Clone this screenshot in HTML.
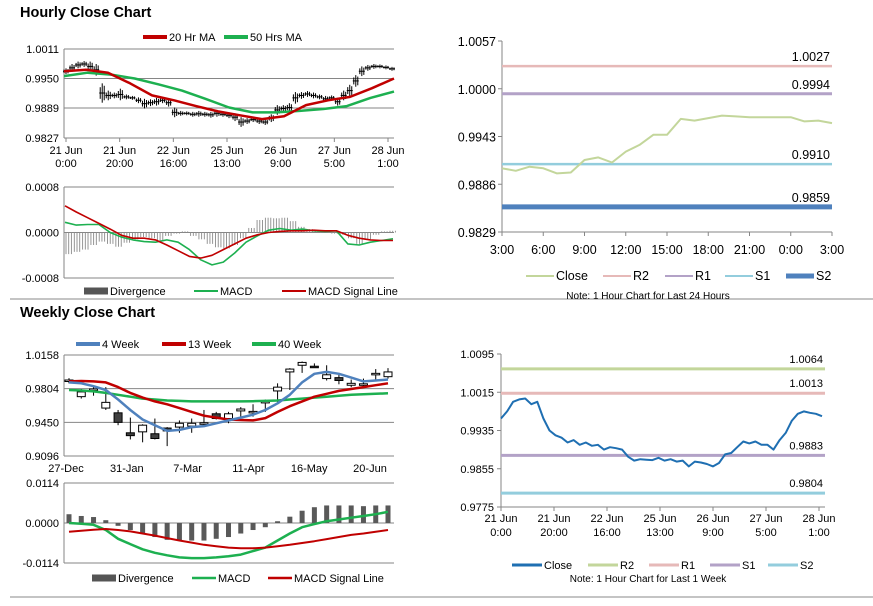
<!DOCTYPE html>
<html><head><meta charset="utf-8"><style>
body{margin:0;background:#fff;width:873px;height:601px;overflow:hidden}
svg{font-family:"Liberation Sans",Arial,sans-serif;font-size:11px;fill:#000}
.t{font-weight:bold;font-size:14.5px}
.s{font-size:10px}
</style></head><body>
<svg id="c" width="873" height="601" viewBox="0 0 873 601"></svg>
<script>
// ---------- DATA ----------
const hourlyClose=[0.9965,0.9972,0.9978,0.9980,0.9975,0.9968,0.9920,0.9915,0.9915,0.9917,0.9912,0.9910,0.9905,0.9898,0.9900,0.9902,0.9905,0.9900,0.9880,0.9878,0.9878,0.9876,0.9877,0.9876,0.9875,0.9878,0.9876,0.9874,0.9870,0.9860,0.9862,0.9865,0.9862,0.9860,0.9868,0.9885,0.9888,0.9890,0.9910,0.9915,0.9918,0.9915,0.9912,0.9908,0.9910,0.9902,0.9915,0.9925,0.9945,0.9965,0.9972,0.9975,0.9975,0.9973,0.9970];
const hourlyRange=[0.0006,0.0008,0.0007,0.0006,0.0010,0.0012,0.0020,0.0010,0.0006,0.0012,0.0005,0.0004,0.0006,0.0010,0.0007,0.0008,0.0006,0.0008,0.0010,0.0005,0.0004,0.0005,0.0006,0.0005,0.0006,0.0007,0.0005,0.0006,0.0008,0.0010,0.0006,0.0005,0.0006,0.0006,0.0008,0.0010,0.0007,0.0009,0.0012,0.0007,0.0006,0.0006,0.0005,0.0006,0.0005,0.0008,0.0010,0.0012,0.0012,0.0010,0.0006,0.0005,0.0004,0.0004,0.0004];
const ma20=[0.9965,0.9968,0.9962,0.9940,0.9915,0.9905,0.9893,0.9882,0.9874,0.9866,0.9872,0.9895,0.9905,0.9912,0.9930,0.9950];
const ma50=[0.9955,0.9962,0.9958,0.9950,0.9938,0.9925,0.9908,0.9890,0.9880,0.9880,0.9883,0.9887,0.9893,0.9910,0.9923];
const hMacd=[0.00018,0.00013,0.00014,0.00014,0.00000,-0.00008,-0.00013,-0.00016,-0.00017,-0.00013,-0.00017,-0.00030,-0.00048,-0.00057,-0.00052,-0.00036,-0.00017,-0.00006,0.00004,0.00007,0.00004,0.00006,0.00003,0.00002,0.00003,-0.00020,-0.00022,-0.00017,-0.00014,-0.00011];
const hSignal=[0.00047,0.00036,0.00026,0.00016,0.00006,-0.00005,-0.00010,-0.00010,-0.00013,-0.00022,-0.00032,-0.00042,-0.00045,-0.00040,-0.00030,-0.00020,-0.00010,-0.00004,0.00000,0.00002,0.00003,0.00003,0.00004,0.00003,0.00003,-0.00005,-0.00010,-0.00013,-0.00014,-0.00014];
const hDiv=[-0.00038,-0.00034,-0.00030,-0.00022,-0.00016,-0.00020,-0.00025,-0.00018,-0.00012,-0.00008,-0.00010,-0.00014,-0.00006,-0.00002,0.00002,-0.00006,-0.00012,-0.00020,-0.00026,-0.00028,-0.00022,-0.00010,0.00008,0.00022,0.00026,0.00025,0.00026,0.00020,0.00010,0.00006,0.00004,0.00002,-0.00002,-0.00004,-0.00010,-0.00020,-0.00012,-0.00004,0.00002,0.00003];
const hourTicks=["21 Jun|0:00","21 Jun|20:00","22 Jun|16:00","25 Jun|13:00","26 Jun|9:00","27 Jun|5:00","28 Jun|1:00"];
const hYTicks=[1.0011,0.9950,0.9889,0.9827];

const wOpen=[0.9880,0.9720,0.9790,0.9600,0.9550,0.9340,0.9350,0.9330,0.9390,0.9400,0.9410,0.9440,0.9540,0.9490,0.9570,0.9560,0.9665,0.9780,0.9980,1.0050,1.0040,0.9910,0.9920,0.9840,0.9850,0.9960,0.9930];
const wClose=[0.9895,0.9770,0.9800,0.9660,0.9450,0.9310,0.9420,0.9280,0.9360,0.9440,0.9440,0.9445,0.9490,0.9540,0.9590,0.9565,0.9670,0.9820,1.0010,1.0080,1.0030,0.9950,0.9890,0.9860,0.9855,0.9965,0.9980];
const wHigh=[0.9915,0.9800,0.9830,0.9820,0.9580,0.9500,0.9430,0.9490,0.9400,0.9470,0.9490,0.9580,0.9560,0.9560,0.9610,0.9640,0.9690,0.9860,1.0020,1.0090,1.0070,1.0050,0.9960,0.9900,0.9910,1.0010,1.0020];
const wLow=[0.9860,0.9700,0.9730,0.9580,0.9420,0.9270,0.9240,0.9270,0.9200,0.9340,0.9340,0.9420,0.9480,0.9440,0.9500,0.9510,0.9560,0.9660,0.9790,0.9970,1.0030,0.9890,0.9850,0.9820,0.9830,0.9890,0.9910];
const wk4=[0.9870,0.9860,0.9830,0.9790,0.9690,0.9580,0.9480,0.9420,0.9360,0.9370,0.9400,0.9410,0.9440,0.9470,0.9500,0.9530,0.9580,0.9650,0.9740,0.9870,0.9960,0.9980,0.9960,0.9920,0.9880,0.9890,0.9900];
const wk13=[0.9880,0.9885,0.9880,0.9870,0.9820,0.9760,0.9710,0.9670,0.9640,0.9600,0.9560,0.9520,0.9500,0.9480,0.9475,0.9470,0.9495,0.9560,0.9620,0.9670,0.9720,0.9750,0.9780,0.9800,0.9820,0.9840,0.9860];
const wk40=[0.9790,0.9785,0.9775,0.9760,0.9740,0.9720,0.9700,0.9690,0.9680,0.9675,0.9670,0.9670,0.9670,0.9670,0.9670,0.9672,0.9675,0.9680,0.9690,0.9700,0.9710,0.9720,0.9730,0.9740,0.9745,0.9750,0.9755];
const wMacd=[0.0000,-0.0002,-0.0005,-0.0020,-0.0045,-0.0060,-0.0075,-0.0085,-0.0092,-0.0098,-0.0100,-0.0100,-0.0098,-0.0095,-0.0090,-0.0080,-0.0070,-0.0050,-0.0030,-0.0012,-0.0003,0.0005,0.0010,0.0015,0.0020,0.0025,0.0032];
const wSignal=[-0.0025,-0.0022,-0.0019,-0.0017,-0.0020,-0.0024,-0.0030,-0.0036,-0.0043,-0.0050,-0.0056,-0.0062,-0.0066,-0.0070,-0.0072,-0.0072,-0.0070,-0.0066,-0.0062,-0.0057,-0.0052,-0.0046,-0.0040,-0.0034,-0.0030,-0.0025,-0.0020];
const wDiv=[0.0025,0.0020,0.0017,0.0008,-0.0008,-0.0020,-0.0030,-0.0040,-0.0048,-0.0050,-0.0050,-0.0050,-0.0045,-0.0040,-0.0030,-0.0020,-0.0012,0.0005,0.0018,0.0035,0.0045,0.0050,0.0050,0.0050,0.0048,0.0050,0.0050];
const weekTicks=["27-Dec","31-Jan","7-Mar","11-Apr","16-May","20-Jun"];
const wYTicks=[1.0158,0.9804,0.9450,0.9096];

const dayClose=[0.9905,0.9902,0.9907,0.9905,0.9899,0.9900,0.9915,0.9918,0.9912,0.9925,0.9933,0.9945,0.9945,0.9964,0.9962,0.9965,0.9968,0.9967,0.9966,0.9966,0.9966,0.9966,0.9961,0.9962,0.9959];
const dayTicks=["3:00","6:00","9:00","12:00","15:00","18:00","21:00","0:00","3:00"];
const dayYTicks=[1.0057,1.0000,0.9943,0.9886,0.9829];
const dayLevels=[1.0027,0.9994,0.9910,0.9859];
const dayLevelNames=["R2","R1","S1","S2"];

const weekClose=[0.9960,0.9975,0.9995,1.0000,1.0002,0.9990,0.9995,0.9960,0.9935,0.9925,0.9920,0.9910,0.9915,0.9905,0.9910,0.9903,0.9905,0.9895,0.9900,0.9898,0.9895,0.9880,0.9872,0.9875,0.9874,0.9873,0.9878,0.9872,0.9875,0.9870,0.9872,0.9860,0.9870,0.9868,0.9865,0.9860,0.9867,0.9885,0.9888,0.9900,0.9912,0.9908,0.9912,0.9905,0.9905,0.9895,0.9915,0.9930,0.9955,0.9970,0.9975,0.9972,0.9970,0.9965];
const weekLevels=[1.0064,1.0013,0.9883,0.9804];
const weekLevelNames=["R2","R1","S1","S2"];
const wkYTicks=[1.0095,1.0015,0.9935,0.9855,0.9775];

// ---------- HELPERS ----------
const svg=document.getElementById('c');const NS='http://www.w3.org/2000/svg';
function E(tag,at,parent){const e=document.createElementNS(NS,tag);for(const k in at)e.setAttribute(k,at[k]);(parent||svg).appendChild(e);return e;}
function T(x,y,s,anchor,cls){const e=E('text',{x:x,y:y,'text-anchor':anchor||'start'});if(cls)e.setAttribute('class',cls);e.textContent=s;return e;}
function lin(d0,d1,r0,r1){return v=>r0+(v-d0)/(d1-d0)*(r1-r0);}
function pathOf(arr,x,y){return arr.map((v,i)=>(i?'L':'M')+x(i).toFixed(1)+','+y(v).toFixed(1)).join('');}
function line(arr,x,y,color,w,name){const p=E('path',{d:pathOf(arr,x,y),fill:'none',stroke:color,'stroke-width':w,'stroke-linejoin':'round'});

return p;}
function legend(items,y){items.forEach(it=>{const l=E('line',{x1:it.x,y1:y-4,x2:it.x+24,y2:y-4,stroke:it.c,'stroke-width':it.w});


const t=T(it.x+26,y,it.label);

});}

const RED='#c00000',GRN='#1db050',BLUE='#4f81bd',GRID='#868686';

// ---------- TITLES / SEPARATORS ----------
T(20,17,'Hourly Close Chart','start','t');
T(20,317,'Weekly Close Chart','start','t');
E('line',{x1:10,y1:299,x2:873,y2:299,stroke:'#888','stroke-width':1});
E('line',{x1:10,y1:597,x2:873,y2:597,stroke:'#888','stroke-width':1});

// ---------- HOURLY MAIN ----------
(function(){
const L=64,R=394,top=49,bot=138;
const y=lin(0.9827,1.0011,bot,top);
hYTicks.forEach(v=>{E('line',{x1:L,y1:y(v),x2:R,y2:y(v),stroke:GRID});T(L-5,y(v)+4,v.toFixed(4),'end');});
E('line',{x1:L,y1:top,x2:L,y2:bot,stroke:GRID});
const tx=lin(0,6,66,388);
hourTicks.forEach((s,i)=>{const p=s.split('|');E('line',{x1:tx(i),y1:bot,x2:tx(i),y2:bot+4,stroke:GRID});T(tx(i),bot+16,p[0],'middle');T(tx(i),bot+29,p[1],'middle');});
const x=lin(0,hourlyClose.length-1,66,392);
hourlyClose.forEach((v,i)=>{const r=hourlyRange[i];
[[-2,0.6],[0,1],[2,0.75]].forEach(o=>{const b=E('line',{x1:x(i)+o[0],y1:y(v+r*o[1]),x2:x(i)+o[0],y2:y(v-r*o[1]),stroke:'#000','stroke-width':1});

});
E('line',{x1:x(i)-3,y1:y(v),x2:x(i)+3,y2:y(v),stroke:'#000'});});
line(ma50,lin(0,ma50.length-1,64,394),y,GRN,2.5,'ma50-line');
line(ma20,lin(0,ma20.length-1,64,394),y,RED,2.5,'ma20-line');
legend([{x:143,c:RED,w:4,label:'20 Hr MA',n:'ma20'},{x:224,c:GRN,w:4,label:'50 Hrs MA',n:'ma50'}],41);
})();

// ---------- HOURLY MACD ----------
(function(){
const L=64,R=394,top=187,bot=278;
const y=lin(-0.0008,0.0008,bot,top);
[0.0008,0,-0.0008].forEach(v=>{E('line',{x1:L,y1:y(v),x2:R,y2:y(v),stroke:GRID});T(L-5,y(v)+4,v.toFixed(4),'end');});
E('line',{x1:L,y1:top,x2:L,y2:bot,stroke:GRID});
const x=lin(0,hDiv.length-1,66,390);
hDiv.forEach((v,i)=>{for(let k=0;k<3;k++){const xx=x(i)+k*2.7;const b=E('line',{x1:xx,y1:y(0),x2:xx,y2:y(v),stroke:'#8a8a8a','stroke-width':0.9});

}});
line(hMacd,lin(0,hMacd.length-1,65,393),y,GRN,1.6,'hourly-macd-line');
line(hSignal,lin(0,hSignal.length-1,65,393),y,RED,1.6,'hourly-signal-line');
legend([{x:84,c:'#555',w:7,label:'Divergence',n:'divergence'},{x:194,c:GRN,w:2,label:'MACD',n:'macd'},{x:282,c:RED,w:2,label:'MACD Signal Line',n:'signal'}],295);
})();

// ---------- WEEKLY MAIN ----------
(function(){
const L=64,R=394,top=355,bot=456;
const y=lin(0.9096,1.0158,bot,top);
wYTicks.forEach(v=>{E('line',{x1:L,y1:y(v),x2:R,y2:y(v),stroke:GRID});T(L-5,y(v)+4,v.toFixed(4),'end');});
E('line',{x1:L,y1:top,x2:L,y2:bot,stroke:GRID});
const x=lin(0,26,69,388);
const tx=lin(0,5,66,370);
weekTicks.forEach((s,i)=>{T(tx(i),bot+16,s,'middle');});
wOpen.forEach((o,i)=>{const c=wClose[i];
E('line',{x1:x(i),y1:y(wHigh[i]),x2:x(i),y2:y(wLow[i]),stroke:'#000'});
const r=E('rect',{x:x(i)-4,y:y(Math.max(o,c)),width:8,height:Math.max(1.5,Math.abs(y(o)-y(c))),fill:c>=o?'#fff':'#404040',stroke:'#000','stroke-width':1});

});
line(wk40,x,y,GRN,2.5,'wk40-line');
line(wk13,x,y,RED,2.5,'wk13-line');
line(wk4,x,y,BLUE,2.5,'wk4-line');
legend([{x:76,c:BLUE,w:4,label:'4 Week',n:'wk4'},{x:162,c:RED,w:4,label:'13 Week',n:'wk13'},{x:252,c:GRN,w:4,label:'40 Week',n:'wk40'}],348);
})();

// ---------- WEEKLY MACD ----------
(function(){
const L=64,R=394,top=483,bot=563;
const y=lin(-0.0114,0.0114,bot,top);
[0.0114,0,-0.0114].forEach(v=>{E('line',{x1:L,y1:y(v),x2:R,y2:y(v),stroke:GRID});T(L-5,y(v)+4,v.toFixed(4),'end');});
E('line',{x1:L,y1:top,x2:L,y2:bot,stroke:GRID});
const x=lin(0,26,69,388);
wDiv.forEach((v,i)=>{const b=E('rect',{x:x(i)-2.5,y:Math.min(y(0),y(v)),width:5,height:Math.abs(y(v)-y(0)),fill:'#595959'});

});
line(wMacd,x,y,GRN,2.5,'weekly-macd-line');
line(wSignal,x,y,RED,2,'weekly-signal-line');
legend([{x:92,c:'#555',w:7,label:'Divergence',n:'w-divergence'},{x:192,c:GRN,w:2.5,label:'MACD',n:'w-macd'},{x:268,c:RED,w:2.5,label:'MACD Signal Line',n:'w-signal'}],582);
})();

// ---------- DAY PIVOT ----------
(function(){
const L=502,R=832,top=41,bot=232;
const y=lin(0.9829,1.0057,bot,top);
E('line',{x1:L,y1:top,x2:L,y2:bot,stroke:GRID});E('line',{x1:L,y1:bot,x2:R,y2:bot,stroke:GRID});
dayYTicks.forEach(v=>{E('line',{x1:L-4,y1:y(v),x2:L,y2:y(v),stroke:GRID});const t=T(L-6,y(v)+5,v.toFixed(4),'end');t.setAttribute('font-size','12.5');});
const tx=lin(0,8,L,R);
dayTicks.forEach((s,i)=>{E('line',{x1:tx(i),y1:bot,x2:tx(i),y2:bot+4,stroke:GRID});const t=T(tx(i),bot+22,s,'middle');t.setAttribute('font-size','12.5');});
const cols=['#e6b9b8','#b3a2c7','#93cddd','#4f81bd'],ws=[2.5,3,2.5,5];
dayLevels.forEach((v,i)=>{const l=E('line',{x1:L,y1:y(v),x2:R,y2:y(v),stroke:cols[i],'stroke-width':ws[i]});


const t=T(R-2,y(v)-5,v.toFixed(4),'end');t.setAttribute('font-size','12.5');});
line(dayClose,lin(0,dayClose.length-1,L,R),y,'#c3d69b',2,'day-close-line');
const ly=280;
[[526,'#c3d69b',2,'Close'],[603,'#e6b9b8',2,'R2'],[665,'#b3a2c7',2,'R1'],[725,'#93cddd',2,'S1'],[786,'#4f81bd',5,'S2']].forEach(a=>{E('line',{x1:a[0],y1:ly-4,x2:a[0]+28,y2:ly-4,stroke:a[1],'stroke-width':a[2]});const t=T(a[0]+30,ly,a[3]);t.setAttribute('font-size','12.5');});
T(648,299,'Note: 1 Hour Chart for Last 24 Hours','middle','s');
})();

// ---------- WEEK PIVOT ----------
(function(){
const L=501,R=825,top=354,bot=507;
const y=lin(0.9775,1.0095,bot,top);
E('line',{x1:L,y1:top,x2:L,y2:bot,stroke:GRID});E('line',{x1:L,y1:bot,x2:R,y2:bot,stroke:GRID});
wkYTicks.forEach(v=>{E('line',{x1:L-4,y1:y(v),x2:L,y2:y(v),stroke:GRID});T(L-7,y(v)+4,v.toFixed(4),'end');});
const tx=lin(0,6,501,819);
hourTicks.forEach((s,i)=>{const p=s.split('|');E('line',{x1:tx(i),y1:bot,x2:tx(i),y2:bot+4,stroke:GRID});T(tx(i),bot+15,p[0],'middle');T(tx(i),bot+29,p[1],'middle');});
const cols=['#c3d69b','#e6b9b8','#b3a2c7','#93cddd'];
weekLevels.forEach((v,i)=>{const l=E('line',{x1:L,y1:y(v),x2:R,y2:y(v),stroke:cols[i],'stroke-width':3});


T(R-2,y(v)-6,v.toFixed(4),'end');});
line(weekClose,lin(0,weekClose.length-1,L,822),y,'#1f6fb2',2,'week-close-line');
const ly=569;
[[512,'#1f6fb2','Close'],[588,'#c3d69b','R2'],[649,'#e6b9b8','R1'],[710,'#b3a2c7','S1'],[768,'#93cddd','S2']].forEach(a=>{E('line',{x1:a[0],y1:ly-4,x2:a[0]+30,y2:ly-4,stroke:a[1],'stroke-width':3});T(a[0]+32,ly,a[2]);});
T(648,582,'Note: 1 Hour Chart for Last 1 Week','middle','s');
})();
</script>
</body></html>
